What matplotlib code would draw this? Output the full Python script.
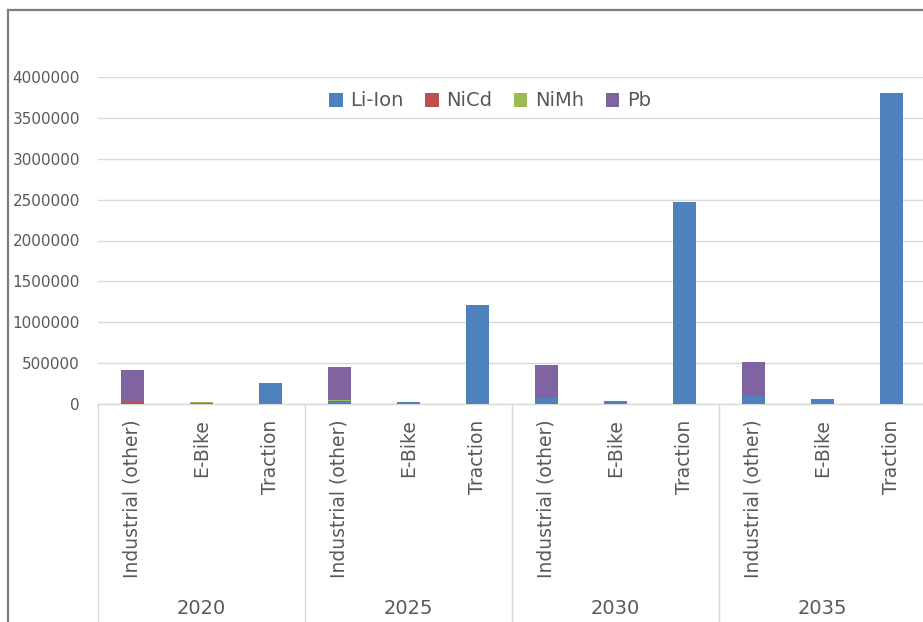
import matplotlib
matplotlib.use("Agg")
import matplotlib.pyplot as plt
import numpy as np
from matplotlib.lines import Line2D
from matplotlib.patches import Patch
from matplotlib.transforms import blended_transform_factory

years = ["2020", "2025", "2030", "2035"]
segments = ["Industrial (other)", "E-Bike", "Traction"]
series_names = ["Li-Ion", "NiCd", "NiMh", "Pb"]
li_ion = [5000, 10000, 255000, 35000, 25000, 1210000, 77000, 37000, 2470000, 102000, 61000, 3810000]
nicd = [15000, 0, 0, 3000, 0, 0, 0, 0, 0, 0, 0, 0]
nimh = [3000, 15000, 6000, 15000, 1000, 2000, 0, 0, 0, 0, 0, 0]
pb = [387000, 0, 0, 396000, 0, 0, 396000, 0, 0, 408000, 0, 0]
yticks = [0, 500000, 1000000, 1500000, 2000000, 2500000, 3000000, 3500000, 4000000]

colors = ["#4F81BD", "#C0504D", "#9BBB59", "#8064A2"]
text_color = "#595959"
grid_color = "#D9D9D9"

W, H = 923, 622
fig = plt.figure(figsize=(W / 100, H / 100), dpi=100)
ax = fig.add_axes([98 / W, 1 - 404 / H, 828 / W, 327 / H])

n = len(years) * len(segments)
x = np.arange(n)
bottom = np.zeros(n)
for vals, c in zip([li_ion, nicd, nimh, pb], colors):
    v = np.array(vals, dtype=float)
    ax.bar(x, v, width=0.32, bottom=bottom, color=c, linewidth=0, zorder=3)
    bottom += v

ax.set_xlim(-0.5, n - 0.5)
ax.set_ylim(0, 4000000)
ax.set_yticks(yticks)
ax.set_yticklabels([str(t) for t in yticks])
ax.yaxis.grid(True, color=grid_color, linewidth=1.0, zorder=0)
ax.set_axisbelow(True)
for s in ["top", "right", "left"]:
    ax.spines[s].set_visible(False)
ax.spines["bottom"].set_color(grid_color)
ax.spines["bottom"].set_linewidth(1.0)
ax.tick_params(axis="y", length=0, pad=13, labelsize=11, labelcolor=text_color)

ax.set_xticks(x)
ax.set_xticklabels(segments * len(years), rotation=90, fontsize=13.5, color=text_color)
ax.tick_params(axis="x", length=0, pad=11)
for lbl in ax.get_xticklabels():
    lbl.set_va("top")
    lbl.set_ha("center")

trans = blended_transform_factory(ax.transData, fig.transFigure)
for i, yr in enumerate(years):
    ax.text(i * 3 + 1, 1 - 609 / H, yr, transform=trans, ha="center", va="center",
            fontsize=14, color=text_color)
for i in range(len(years)):
    ax.add_line(Line2D([i * 3 - 0.5, i * 3 - 0.5], [0, 1 - 404 / H], transform=trans,
                       color=grid_color, linewidth=1.0, clip_on=False))

handles = [Patch(facecolor=c, edgecolor="none") for c in colors]
fig.legend(handles, series_names, loc="center", bbox_to_anchor=(490 / W, 1 - 101 / H),
           ncol=4, frameon=False, fontsize=14, handlelength=0.7, handleheight=0.7,
           handletextpad=0.4, columnspacing=1.1, labelcolor=text_color)

fig.add_artist(Line2D([8 / W, 1], [1 - 10 / H, 1 - 10 / H], transform=fig.transFigure,
                      color="#7F7F7F", linewidth=1.6))
fig.add_artist(Line2D([8 / W, 8 / W], [0, 1 - 10 / H], transform=fig.transFigure,
                      color="#7F7F7F", linewidth=1.6))

fig.savefig("out.png", dpi=100)
